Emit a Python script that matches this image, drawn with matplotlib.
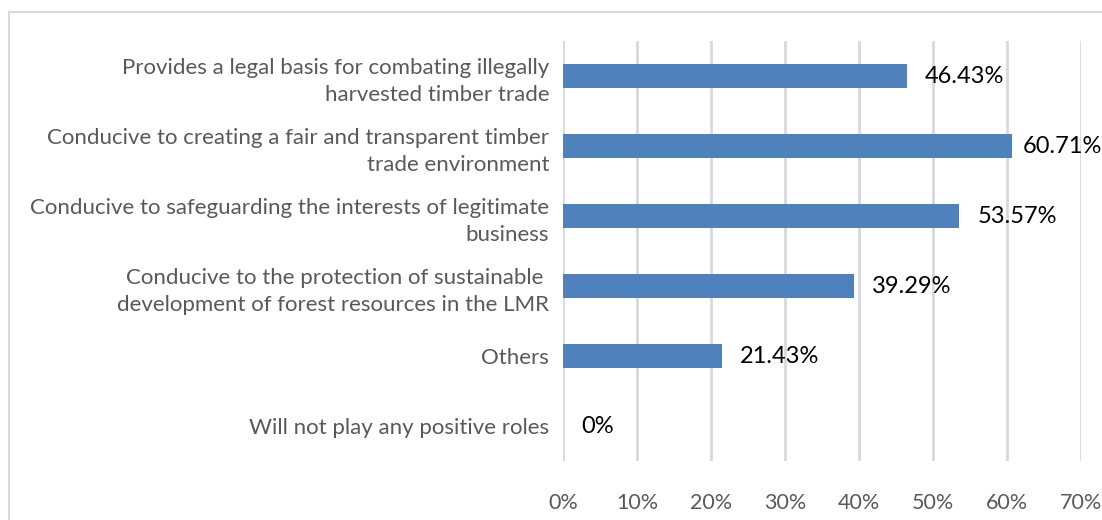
import matplotlib.pyplot as plt
from matplotlib.patches import Rectangle

categories = [
    "Provides a legal basis for combating illegally\nharvested timber trade",
    "Conducive to creating a fair and transparent timber\ntrade environment",
    "Conducive to safeguarding the interests of legitimate\nbusiness",
    "Conducive to the protection of sustainable \ndevelopment of forest resources in the LMR",
    "Others",
    "Will not play any positive roles",
]
shares = [46.43, 60.71, 53.57, 39.29, 21.43, 0]
value_labels = ["46.43%", "60.71%", "53.57%", "39.29%", "21.43%", "0%"]
x_ticks = [0, 10, 20, 30, 40, 50, 60, 70]

plt.rcParams["font.family"] = ["Lato", "DejaVu Sans"]

fig = plt.figure(figsize=(11.02, 5.2), dpi=100)
ax = fig.add_axes([0.511, 0.113, 0.470, 0.808])

# light frame around the chart area
fig.patches.append(Rectangle((9 / 1102, -0.1), 1.2, 1 - 12 / 520 + 0.1,
                             transform=fig.transFigure, fill=False,
                             edgecolor="#D9D9D9", linewidth=1.5))

y = list(range(len(categories)))
ax.barh(y, shares, height=0.34, color="#4F81BD", edgecolor="none", zorder=3)

# value labels sit just past the bar end, pulled in near the right edge
for yi, v, lab in zip(y, shares, value_labels):
    ax.text(min(v + 2.5, 62.1), yi, lab, va="center", ha="left",
            fontsize=17, color="black")

ax.set_ylim(len(categories) - 0.5, -0.5)
ax.set_xlim(0, 70)
ax.set_xticks(x_ticks)
ax.set_xticklabels([f"{t}%" for t in x_ticks], fontsize=15.5, color="#595959")
ax.set_yticks(y)
ax.set_yticklabels(categories, fontsize=16, color="#595959", linespacing=1.45)
ax.tick_params(axis="both", length=0)
ax.tick_params(axis="x", pad=23)
ax.tick_params(axis="y", pad=10)
ax.xaxis.grid(True, color="#D9D9D9", linewidth=2)
for s in ax.spines.values():
    s.set_visible(False)

fig.savefig("out.png", dpi=100)
